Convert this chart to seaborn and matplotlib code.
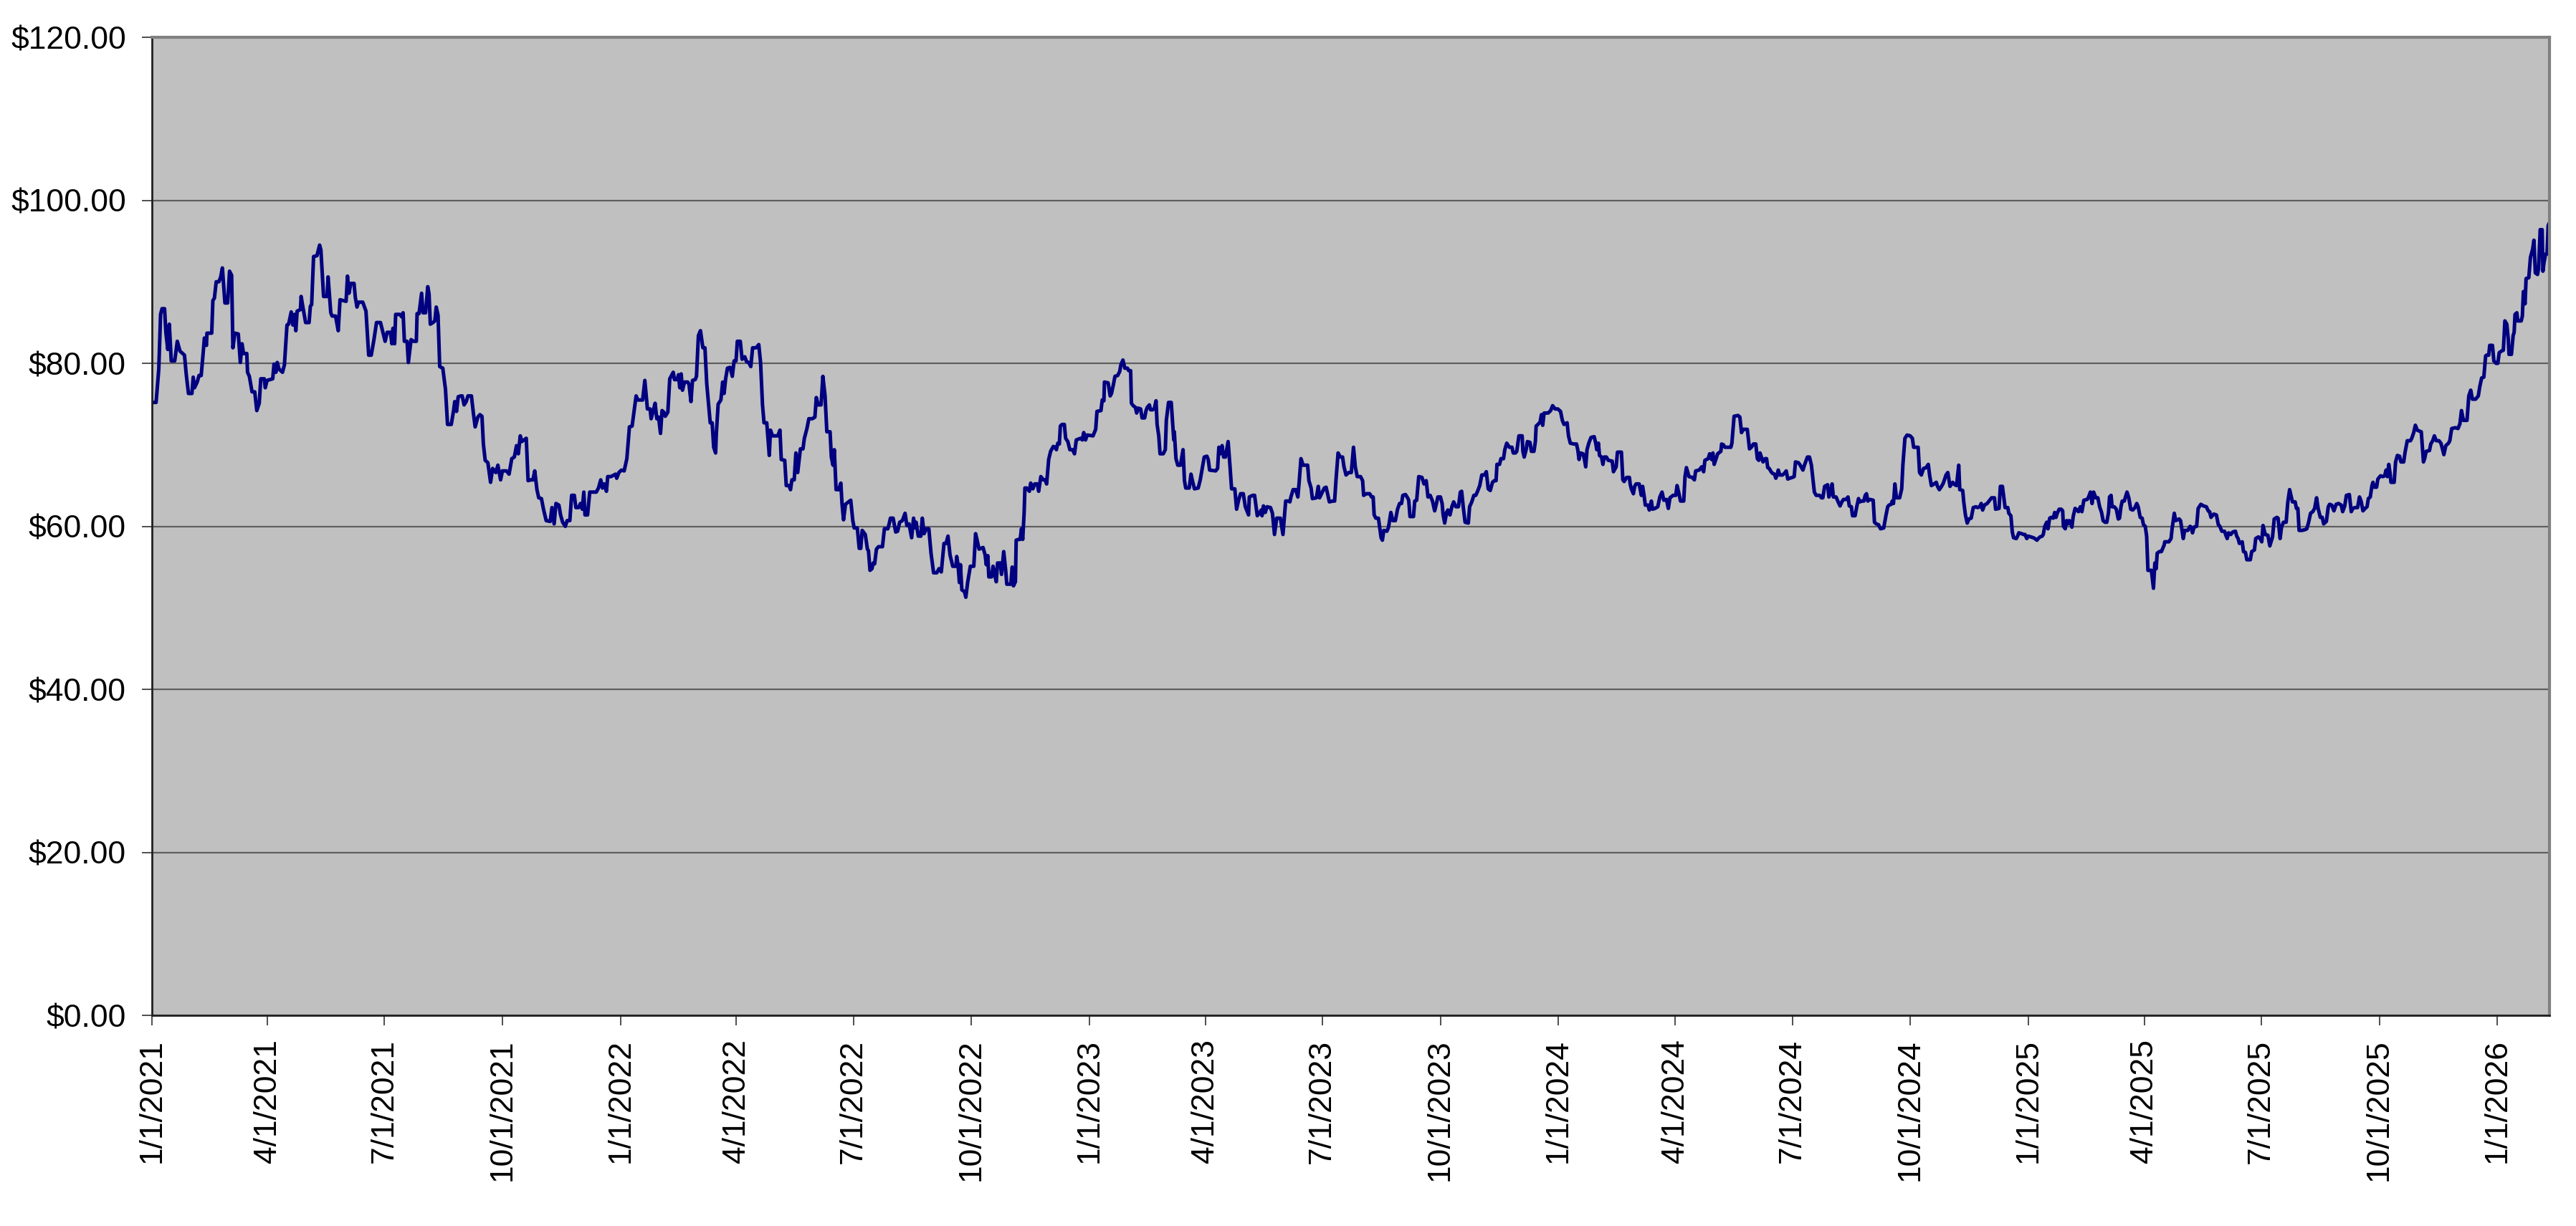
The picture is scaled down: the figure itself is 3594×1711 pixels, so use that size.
import pandas as pd
import matplotlib
matplotlib.use('Agg')
import matplotlib.pyplot as plt
import matplotlib.dates as mdates
from matplotlib.ticker import StrMethodFormatter, FuncFormatter
import seaborn as sns

# Chart range
start_date = '2021-01-01'
end_offset = 1866.5  # right edge of the x axis, days after start_date
y_ticks = [0, 20, 40, 60, 80, 100, 120]
tick_months = [1, 4, 7, 10]

# Price path: days after 1/1/2021 and price in $
days = [
    0, 3.2, 5.3, 6.7, 7.8, 9.8, 10.8, 12.3, 13.5, 15.0, 17.7, 19.7, 21.8, 25.3, 26.7, 28.4,
    31.1, 32.1, 33.1, 35.2, 36.6, 38.3, 39.7, 40.8, 42.4, 42.8, 46.5, 47.4, 48.6, 50.0, 52.1,
    53.5, 54.8, 56.8, 58.9, 60.4, 62.0, 63.0, 64.5, 67.2, 68.8, 70.1, 71.3, 73.8, 74.4, 75.8,
    77.9, 80.0, 81.6, 83.5, 84.7, 87.4, 88.2, 89.6, 94.0, 95.0, 96.5, 97.5, 98.9, 101.6, 103.1,
    105.1, 106.4, 108.4, 109.7, 110.9, 112.0, 113.0, 115.6, 116.1, 117.7, 119.6, 122.3, 123.3,
    124.3, 125.8, 128.4, 130.5, 131.5, 133.6, 136.3, 137.1, 139.2, 140.2, 142.9, 145.0, 146.4,
    151.1, 152.2, 153.4, 154.8, 157.3, 158.3, 159.6, 160.8, 164.1, 166.6, 168.7, 170.7, 172.8,
    174.8, 177.9, 181.5, 183.1, 185.6, 186.8, 187.6, 188.9, 189.7, 193.0, 194.4, 195.5, 196.5,
    198.6, 199.6, 201.7, 203.7, 205.8, 206.4, 207.9, 209.9, 211.0, 213.0, 214.7, 215.7, 216.7,
    218.8, 220.2, 221.3, 222.7, 224.0, 226.4, 228.5, 230.1, 233.0, 234.7, 235.7, 237.1, 238.4,
    240.5, 241.5, 243.0, 244.6, 246.0, 248.7, 250.2, 251.6, 253.7, 255.3, 256.9, 258.0, 259.4,
    261.5, 263.6, 265.2, 267.7, 269.3, 271.4, 272.8, 275.9, 278.0, 280.1, 282.1, 283.8, 285.2,
    286.7, 287.9, 291.4, 292.8, 294.9, 296.6, 298.0, 299.7, 301.1, 303.2, 304.8, 306.9, 310.0,
    311.4, 313.1, 314.5, 316.8,
    318.1, 319.7, 321.8, 323.2, 325.3, 326.7, 328.8, 330.0, 332.1, 333.6, 335.0, 336.2, 337.1,
    339.1, 340.8, 342.8, 345.9, 347.6, 349.4, 350.7, 352.1, 353.8, 354.8, 357.3, 359.8, 361.0,
    361.8, 363.5, 365.5, 367.6, 369.7, 371.7, 373.8, 376.9, 378.3, 382.0, 383.7, 385.7, 387.8,
    388.6, 390.3, 391.7, 393.0, 394.4, 395.9, 397.1, 398.5, 399.6, 401.6, 403.1, 405.8, 406.8,
    408.9, 409.9, 410.9, 412.0, 413.0, 414.6, 417.1, 418.1, 419.6, 420.8, 422.9, 423.9, 425.4,
    427.0, 428.9, 430.5, 431.9, 434.6, 436.1, 437.3, 438.8, 439.4, 440.8, 442.9, 444.3, 445.4,
    446.6, 448.0, 450.1, 451.8, 453.2, 454.7, 455.7, 458.0, 459.4, 461.5, 462.9, 464.6, 466.2,
    467.6, 470.3, 472.4, 473.8, 475.3, 476.5, 478.6, 480.6, 481.5, 483.1, 485.2, 487.2, 488.9,
    489.9, 492.6, 493.8, 495.9, 497.1, 498.2, 500.0, 501.3, 502.7, 504.8, 506.8, 507.9, 509.9,
    511.4, 514.1, 516.1, 517.2, 518.6, 520.9, 522.3, 524.0, 525.4, 527.9, 528.9, 530.2, 531.2,
    532.6, 534.7, 536.3, 537.2, 538.4, 539.9, 542.3, 544.0, 545.6, 546.7, 549.1, 550.6, 551.8,
    552.9, 555.3, 557.0, 557.8, 559.0, 560.5, 561.5, 562.6, 564.0, 565.6, 568.7, 570.2, 572.9,
    573.9, 574.9, 577.0, 579.0, 580.5, 582.1, 584.2, 586.3, 587.7, 589.4, 591.4, 592.9, 594.1,
    594.9, 596.6, 598.6, 599.7, 601.1, 602.8, 604.8, 606.5, 608.5, 611.0, 612.7, 614.5, 616.6,
    618.2, 619.7, 621.3, 623.4, 625.9, 626.5, 627.5, 628.6,
    629.4, 630.5, 632.5, 633.6, 635.0, 637.1, 639.8, 641.2, 642.4, 643.9, 647.0, 648.6, 649.5,
    650.7, 651.5, 653.6, 654.8, 656.3, 657.3, 658.3, 660.4, 661.4, 663.1, 664.5, 665.5, 668.6,
    669.7, 670.7, 672.2, 672.8, 674.8, 675.9, 676.9, 677.9, 679.0, 679.6, 681.0, 683.1, 684.1,
    685.8, 687.2, 689.3, 690.3, 692.0, 694.0, 695.5, 696.5, 698.1, 699.6, 701.7, 703.1, 704.1,
    705.2, 706.4, 707.2, 708.5, 710.3, 711.3, 713.0, 714.6, 716.7, 718.2, 719.6, 721.3, 722.9,
    724.3, 725.4, 726.8, 728.1, 732.6, 734.7, 735.7, 738.8, 739.8, 741.1, 741.5, 744.4, 746.0,
    747.0, 748.5, 749.7, 751.8, 753.4, 754.3, 755.9, 757.4, 759.4, 760.4, 761.9, 762.5, 763.9,
    765.6, 766.6, 767.7, 769.7, 770.8, 772.8, 773.9, 774.9, 776.5, 777.4, 779.0, 780.3, 781.7,
    782.5, 783.8, 784.8, 787.3, 788.9, 789.7, 791.4, 793.5, 795.5, 795.9, 797.2, 798.6, 800.7,
    802.7, 803.8, 804.8, 807.5, 808.9, 810.0, 811.6, 814.5, 816.1, 819.2, 821.3, 822.3, 823.4,
    828.1, 829.6, 830.6, 831.6, 833.1, 834.3, 835.7, 837.8, 839.2, 840.5, 843.0, 844.4, 846.1,
    847.5, 849.6, 851.2, 852.7, 853.7, 854.3, 857.0, 858.4, 860.5, 862.0, 863.6, 864.2, 865.3,
    866.7, 868.1, 870.8, 872.3, 873.9, 875.6, 878.5, 880.5, 882.6, 884.6, 885.9, 886.7, 888.4,
    890.4, 892.1, 893.1, 894.5, 896.2, 899.7, 900.7, 902.4, 903.4, 906.5, 908.0, 909.0, 912.7,
    914.1, 915.8, 916.6, 919.3, 920.7, 921.8, 923.4, 925.1, 926.9, 928.0, 929.6, 931.7, 933.7,
    935.4, 936.8, 938.3, 940.9,
    942.5, 943.3, 945.4, 948.0, 949.5, 950.7, 951.5, 952.8, 954.8, 955.7, 956.9, 957.9, 959.0,
    961.4, 962.5, 963.1, 964.5, 966.0, 968.0, 969.7, 971.3, 972.8, 973.8, 975.9, 977.5, 978.4,
    979.4, 982.1, 983.1, 984.6, 986.2, 988.7, 990.3, 992.0, 993.4, 995.1, 996.9, 998.6, 1000.0,
    1001.1, 1003.1, 1004.4, 1005.2, 1006.4, 1007.9, 1008.9, 1010.5, 1012.0, 1013.4, 1015.1,
    1017.1, 1018.6, 1019.6, 1020.9, 1022.3, 1024.8, 1025.8, 1027.5, 1029.1, 1030.6, 1032.0,
    1033.7, 1035.3, 1037.4, 1038.8, 1040.3, 1041.9, 1043.6, 1045.0, 1046.4, 1047.1, 1049.1,
    1050.2, 1052.2, 1053.2, 1054.7, 1056.8, 1058.8, 1059.8, 1061.5, 1062.5, 1064.2, 1066.7,
    1067.3, 1068.3, 1069.8, 1070.8, 1072.8, 1073.9, 1075.9, 1077.0, 1077.6, 1079.0, 1080.7,
    1081.7, 1082.7, 1083.8, 1086.9, 1088.9, 1090.4, 1092.4, 1094.5, 1096.6, 1098.0, 1099.3,
    1101.7, 1102.8, 1104.2, 1106.9, 1109.0, 1110.0, 1111.0, 1112.0, 1114.1, 1115.1, 1116.2,
    1117.2, 1118.6, 1120.3, 1122.8, 1124.0, 1124.8, 1126.1, 1126.9, 1128.5, 1129.6, 1130.6,
    1132.3, 1133.7, 1136.8, 1137.8, 1139.9, 1140.9, 1144.0, 1145.1, 1146.1, 1148.1, 1150.2,
    1150.8, 1151.7, 1153.3, 1154.3, 1155.4, 1157.8, 1159.5, 1160.5, 1161.6, 1162.6, 1164.7,
    1165.7, 1167.3, 1168.2, 1170.2, 1172.3, 1173.9, 1175.6, 1177.0, 1179.1, 1180.5, 1181.8,
    1184.2, 1186.3, 1187.3, 1188.8, 1190.0, 1192.5, 1193.5, 1194.6, 1196.6, 1199.1, 1200.8,
    1201.8, 1204.5, 1206.5, 1208.0, 1209.0, 1211.5, 1212.7, 1214.2, 1215.2, 1216.2, 1217.7,
    1218.9, 1221.4, 1222.0, 1223.4, 1224.5, 1229.2, 1230.0, 1231.7, 1234.8, 1236.2, 1237.5,
    1238.9, 1242.0, 1243.7, 1245.1, 1246.8, 1248.6, 1249.8, 1250.9, 1251.9, 1254.0,
    1254.3, 1255.8, 1257.0, 1257.9, 1259.1, 1260.5, 1261.6, 1263.2, 1264.2, 1265.3, 1266.1,
    1267.3, 1269.4, 1270.9, 1272.3, 1273.5, 1275.0, 1277.0, 1278.5, 1279.5, 1281.8, 1283.2,
    1285.3, 1286.7, 1288.8, 1290.4, 1291.9, 1292.9, 1294.2, 1295.6, 1298.3, 1299.7, 1300.8,
    1302.2, 1304.5, 1305.5, 1307.0, 1308.0, 1309.0, 1311.1, 1312.7, 1314.2, 1315.6, 1316.9,
    1318.9, 1320.4, 1321.4, 1323.0, 1323.9, 1325.9, 1327.2, 1328.6, 1329.6, 1331.3, 1332.7,
    1333.8, 1334.8, 1335.8, 1337.5, 1340.0, 1341.0, 1342.4, 1344.1, 1345.7, 1348.2, 1349.9,
    1351.3, 1352.3, 1354.0, 1354.8, 1355.8, 1356.9, 1358.1, 1360.6, 1362.2, 1363.1, 1364.7,
    1366.4, 1368.8, 1370.5, 1371.5, 1373.0, 1375.0, 1376.1, 1377.5, 1379.2, 1381.2, 1382.9,
    1383.9, 1385.3, 1387.4, 1389.1, 1390.1, 1391.5, 1393.2, 1394.6, 1396.7, 1398.1, 1399.8,
    1401.9, 1403.5, 1404.9, 1406.0, 1406.6, 1407.4, 1409.7, 1410.5, 1411.8, 1413.2, 1414.6,
    1416.3, 1417.9, 1420.0, 1421.4, 1422.9, 1424.1, 1425.2, 1426.6, 1428.7, 1430.7, 1432.2,
    1434.4, 1435.3, 1438.0, 1439.0, 1440.6, 1441.5, 1442.7, 1444.8, 1445.6, 1447.2, 1448.3,
    1449.3, 1451.4, 1452.4, 1453.4, 1455.5, 1457.1, 1458.2, 1459.6, 1460.6, 1462.7, 1464.8,
    1465.8, 1467.5, 1468.5, 1469.9, 1471.6, 1472.4, 1473.6, 1475.1, 1476.1, 1477.4, 1478.6,
    1480.2, 1481.3, 1482.3, 1483.3, 1484.8, 1486.4, 1487.5, 1488.1, 1489.5, 1490.6, 1491.6,
    1492.6, 1493.7, 1494.7, 1495.7, 1497.2, 1498.8, 1499.8, 1501.3, 1502.5, 1504.0, 1506.6,
    1507.7, 1509.1, 1510.4, 1511.6, 1513.3, 1514.9, 1516.3, 1517.8, 1519.0, 1520.5, 1521.9,
    1523.2, 1524.0, 1525.2, 1526.0, 1527.7, 1529.3, 1530.8, 1531.8, 1532.9, 1533.9, 1535.5,
    1536.4, 1537.6, 1539.0, 1540.5, 1542.1, 1543.8, 1545.2, 1546.3, 1547.9, 1549.4, 1550.4,
    1551.8, 1552.9, 1553.9, 1556.6, 1558.2, 1559.3, 1560.3, 1561.1, 1562.8, 1564.4, 1566.5,
    1567.0, 1570.2, 1571.9, 1572.7, 1574.4, 1575.5, 1578.2, 1579.3, 1581.4, 1582.5, 1585.0,
    1586.7, 1587.5, 1588.6, 1589.8, 1591.8, 1593.0, 1595.1, 1597.2, 1599.4, 1600.8, 1601.9,
    1603.0, 1605.1, 1607.2, 1608.7, 1609.9, 1611.4, 1613.5, 1614.6, 1615.6, 1616.7, 1618.4,
    1619.9, 1622.0, 1623.0, 1624.1, 1625.1, 1627.3, 1628.3, 1629.8, 1630.9, 1633.6, 1634.7,
    1636.8, 1637.8, 1639.9, 1641.6, 1642.5, 1643.5, 1645.2, 1647.3, 1648.8, 1650.9, 1652.2,
    1654.3, 1655.2, 1656.8, 1657.9, 1659.4, 1661.5, 1662.8, 1664.2, 1666.4, 1668.5, 1669.5,
    1670.6, 1671.6, 1673.8, 1676.3, 1677.6, 1679.0, 1680.5, 1682.2, 1683.7, 1685.2, 1686.4,
    1688.1, 1689.6, 1690.7, 1692.8, 1694.3, 1695.3, 1697.0, 1698.7, 1700.4, 1702.3, 1704.4,
    1705.5, 1707.1, 1708.4, 1710.7, 1712.2, 1713.5, 1715.0, 1717.1, 1718.6, 1719.8, 1721.3,
    1723.0, 1724.5, 1725.5, 1727.0, 1728.3, 1729.1, 1730.0, 1731.9, 1732.9, 1735.0, 1736.7,
    1738.2, 1739.3, 1740.3, 1741.4, 1742.4, 1743.1, 1745.6, 1746.7, 1748.1, 1749.8, 1750.9,
    1753.0, 1754.1, 1755.8, 1758.3, 1759.3, 1760.8, 1762.1, 1763.6, 1765.0, 1766.7, 1768.4,
    1769.3, 1770.5, 1773.1, 1774.1, 1775.6, 1776.9, 1778.4, 1780.5, 1782.0, 1783.2, 1784.3,
    1785.8, 1787.9, 1788.9, 1790.4, 1793.2, 1795.3, 1796.8, 1798.0, 1799.5, 1802.3, 1803.7,
    1805.2, 1806.5, 1809.0, 1811.1, 1812.2, 1813.7, 1815.4, 1816.8, 1817.5, 1819.2, 1820.0,
    1822.1, 1823.2, 1824.9, 1826.3, 1827.4, 1829.1, 1830.6, 1831.8, 1833.3, 1834.4, 1835.0,
    1836.9, 1838.2, 1839.0, 1839.7, 1841.1, 1841.8, 1844.5, 1845.4, 1846.2, 1847.5, 1848.3,
    1850.4, 1851.7, 1853.4, 1854.4, 1855.5, 1857.2, 1858.0, 1859.3, 1860.8, 1861.4, 1862.3,
    1863.5, 1864.6, 1865.5, 1866.3,
]

price = [
    75.2, 75.2, 79.3, 86.0, 86.7, 86.7, 83.8, 81.7, 84.8, 80.3, 80.3, 82.7, 81.5, 81.0, 78.6, 76.3,
    76.3, 78.3, 77.0, 77.7, 78.5, 78.5, 81.0, 83.1, 82.2, 83.7, 83.7, 87.7, 88.0, 90.0, 90.0,
    90.6, 91.7, 87.4, 87.4, 91.3, 90.8, 81.9, 83.7, 83.6, 80.1, 82.4, 81.2, 81.2, 78.9, 78.4,
    76.5, 76.5, 74.2, 75.1, 78.1, 78.1, 77.0, 77.9, 78.1, 79.9, 78.9, 80.1, 79.3, 78.9, 79.8,
    84.7, 84.8, 86.3, 84.7, 86.0, 84.0, 86.4, 86.6, 88.2, 86.7, 85.0, 85.0, 87.0,
    87.2, 93.1, 93.2, 94.5, 93.9, 88.2, 88.2, 90.6, 86.2, 85.8, 85.8, 84.0, 87.8,
    87.6, 90.7, 88.6, 89.8, 89.8, 88.1, 86.9, 87.5, 87.5, 86.4, 81.0, 81.0, 82.9,
    85.0, 85.0, 82.7, 83.8, 83.8, 82.4, 84.3, 82.4, 86.0, 86.0, 85.7, 86.2, 82.7,
    82.7, 80.1, 82.9, 82.7, 82.7, 86.1, 86.1, 88.6, 86.2, 86.2, 89.4, 88.5, 84.8,
    85.0, 85.2, 86.9, 85.9, 79.6, 79.4, 76.8, 72.5, 72.5, 74.1, 75.3, 74.1, 75.9,
    76.0, 76.0, 74.9, 75.3, 76.0, 76.0, 73.9, 72.2, 73.4, 73.7, 73.5, 70.1, 68.1,
    67.8, 65.4, 67.1, 66.6, 67.5, 65.7, 66.8, 66.8, 66.4, 68.3, 68.5, 69.9, 68.9,
    71.1, 70.4, 70.8, 65.6, 65.7, 65.7, 66.8, 64.5, 63.5, 63.4, 62.1, 60.7, 60.6,
    62.3, 60.3, 62.8, 62.6,
    61.4, 60.5, 60.0, 60.7, 60.7, 63.8, 63.8, 62.3, 62.3, 62.8, 62.1, 64.2, 61.4,
    61.4, 64.2, 64.2, 64.2, 64.7, 65.7, 64.7, 65.2, 64.3, 66.1, 66.1, 66.3, 66.4,
    65.9, 66.6, 66.9, 66.8, 68.3, 72.2, 72.3, 76.0, 75.5, 75.5, 77.9, 74.4, 74.4,
    73.2, 74.2, 75.1, 73.2, 73.4, 71.4, 74.2, 74.0, 73.5, 74.0, 78.1, 78.9, 78.0,
    78.0, 78.6, 77.0, 78.7, 76.7, 77.7, 77.7, 77.4, 75.3, 77.9, 78.0, 78.4, 83.4,
    84.0, 81.9, 81.9, 77.5, 72.7, 72.7, 69.7, 69.0, 71.5, 75.0, 75.5, 77.7, 76.3,
    78.1, 79.4, 79.5, 78.4, 80.3, 80.3, 82.7, 82.7, 80.5, 80.8, 80.2, 80.1, 79.6,
    81.9, 81.9, 82.3, 80.1, 74.9, 72.7, 72.7, 68.7, 71.8, 71.1, 71.1, 71.1, 71.8,
    68.2, 68.1, 65.0, 65.0, 64.5, 65.7, 65.7, 69.0, 66.6, 69.5, 69.5, 70.8, 72.0,
    73.2, 73.2, 73.4, 75.8, 74.9, 74.9, 78.4, 76.0, 71.6, 71.6, 68.5, 67.5, 69.4,
    64.5, 64.5, 65.3, 62.8, 60.8, 62.7, 63.0, 63.2, 60.7, 59.8, 59.8, 57.3, 57.3,
    59.5, 59.0, 57.2, 57.0, 54.6, 54.8, 55.5, 55.4, 57.2, 57.5, 57.5, 59.7, 59.7,
    60.3, 61.0, 61.0, 59.3, 59.4, 60.5, 60.7, 61.6, 60.1, 60.3, 58.6, 61.0, 59.8,
    60.5, 58.8, 58.8, 61.0, 59.1, 59.7, 59.7, 56.7, 54.3, 54.3, 54.8, 54.4, 57.9,
    57.9, 58.8, 56.5, 55.1, 55.1, 56.3, 55.3, 53.1,
    55.3, 52.2, 52.0, 51.3, 53.1, 55.1, 55.1, 59.1, 58.3, 57.2, 57.4, 56.5, 55.3,
    56.4, 53.8, 53.8, 55.1, 53.9, 53.2, 55.5, 55.5, 54.1, 56.9, 54.8, 52.9, 52.9,
    55.0, 52.7, 53.2, 58.3, 58.4, 58.4, 59.7, 58.4, 61.7, 64.7, 64.7, 64.3, 65.3,
    64.6, 65.2, 65.2, 64.3, 66.1, 65.7, 65.7, 65.2, 68.2, 69.2, 69.8, 69.7, 69.4,
    70.2, 70.1, 72.3, 72.5, 72.5, 70.8, 70.4, 69.4, 69.4, 68.9, 70.6, 70.7, 70.8,
    70.6, 71.5, 70.6, 71.2, 71.1, 71.9, 74.1, 74.2, 75.5, 75.4, 77.7, 77.6, 76.0,
    76.3, 77.4, 78.4, 78.5, 79.0, 79.8, 80.4, 79.4, 79.4, 79.1, 79.1, 75.1, 74.8,
    74.6, 73.9, 74.5, 74.4, 73.3, 73.3, 74.2, 74.6, 74.9, 74.3, 74.3, 74.4, 75.4,
    72.5, 71.1, 68.9, 68.9, 69.4, 73.0, 75.2, 75.2, 70.6, 71.6, 68.3, 67.5, 67.5,
    69.4, 65.6, 64.7, 64.7, 66.4, 65.6, 64.6, 64.7, 65.7, 68.5, 68.6, 68.2, 66.9,
    66.8, 67.1, 69.7, 68.9, 69.9, 68.5, 68.5, 70.4, 67.5, 64.6, 64.6, 62.1, 63.3,
    64.0, 64.0, 62.4, 61.8, 61.4, 63.6, 63.8, 63.8, 61.3, 61.6, 62.0, 61.3, 62.5,
    61.7, 62.4, 62.3, 61.6, 59.0, 61.0, 61.0, 59.0, 63.1, 63.1, 63.0, 63.6, 64.5,
    64.5, 63.6, 65.4, 68.3, 67.5, 67.5, 65.6, 64.7, 63.4, 63.5, 64.9, 63.5, 64.7,
    64.8, 63.6, 63.0, 63.1, 63.1, 65.7, 69.0, 68.5, 68.5, 67.3, 66.3, 66.6, 66.6,
    69.7, 67.3, 66.1, 66.1,
    65.6, 63.8, 64.0, 64.0, 63.6, 63.6, 61.4, 61.0, 61.0, 60.0, 58.6, 58.3, 59.5,
    59.4, 59.8, 60.3, 61.7, 60.7, 60.7, 62.1, 62.8, 62.8, 63.8, 63.9, 63.5, 63.2,
    61.2, 61.2, 63.1, 63.2, 66.1, 66.0, 65.2, 65.6, 63.6, 63.8, 63.1, 61.9, 62.8,
    63.6, 63.6, 62.8, 61.4, 60.4, 61.7, 62.0, 61.4, 62.4, 63.0, 62.4,
    62.4, 64.2, 64.3, 62.3, 60.5, 60.4, 62.4, 63.0, 63.8, 63.8, 64.3,
    65.0, 66.3, 66.3, 66.7, 64.6, 64.4, 65.4, 65.6, 65.6, 67.6, 67.6,
    68.3, 68.3, 69.4, 70.2, 69.7, 69.7, 69.0, 69.0, 69.2, 71.1, 71.1,
    69.2, 68.5, 69.4, 70.4, 70.3, 69.2, 69.2, 70.4, 72.3, 72.5, 72.8,
    73.7, 72.4, 73.9, 73.9, 74.2, 74.8, 74.4, 74.4, 74.1, 73.0, 72.5,
    72.7, 71.1, 70.2, 70.1, 70.1, 69.4, 68.2, 69.0, 68.9, 68.3, 67.3,
    69.4, 70.2, 70.9, 71.0, 70.2, 69.4, 70.2, 68.7, 68.5, 67.6, 68.5,
    68.5, 68.1, 68.0, 66.7, 67.3, 69.1, 69.1, 65.7, 65.5, 66.0, 66.0,
    65.2, 64.6, 64.0, 64.9, 65.2, 65.2, 63.8, 64.9, 63.8, 62.6, 62.6,
    62.0, 63.1, 62.1, 62.2, 62.4, 63.6, 64.2, 63.2, 63.3, 62.2, 63.5,
    63.8, 63.8, 65.0, 64.0, 63.1, 63.1, 66.1, 67.2, 66.1, 66.0, 65.7,
    66.8, 66.9, 67.3, 66.7, 68.1, 68.3, 68.9, 68.2, 69.0, 67.6, 68.3,
    68.9, 69.2, 70.1, 70.0, 69.7, 69.7, 70.2, 73.5, 73.6, 73.4, 71.5,
    71.9, 71.9, 69.5, 69.7, 70.1, 70.1, 68.3, 68.1, 69.0, 68.0,
    67.9, 68.3, 68.3, 67.2, 67.1, 66.7, 66.5, 66.4, 65.9, 66.3, 66.9,
    66.3, 66.3, 66.5, 66.8, 65.8, 65.9, 66.0, 66.1, 67.9, 67.8, 67.5,
    66.9, 67.6, 68.5, 68.5, 67.5, 66.1, 64.2, 63.8, 63.8, 63.5, 63.5,
    64.9, 65.1, 63.6, 64.2, 65.2, 63.6, 63.6, 63.0, 62.5, 63.0, 63.3,
    63.3, 63.6, 62.5, 62.4, 61.3, 61.3, 62.4, 63.4, 63.0, 63.1, 63.1,
    63.8, 64.0, 63.1, 63.3, 63.2, 60.5, 60.3, 60.2, 59.7, 59.8, 61.3,
    62.4, 62.6, 62.7, 63.1, 62.8, 65.2, 63.5, 63.5, 64.6, 67.5, 70.8,
    71.2, 71.1, 70.8, 69.7, 69.7, 69.7, 66.6, 66.3, 67.1, 67.2, 67.6,
    66.3, 65.0, 65.2, 65.4, 64.9, 64.5, 64.9, 65.3, 66.3, 66.6, 64.9,
    65.4, 65.1, 65.0, 66.6, 67.5, 64.5, 64.4, 63.0, 61.4, 60.4, 60.9,
    61.0, 62.3, 62.4, 62.3, 62.4, 62.8, 62.0, 62.6, 62.8, 63.2, 63.5,
    63.5, 62.1, 62.2, 64.9, 64.9, 63.8, 62.3, 62.3, 61.6, 61.3, 59.3,
    58.6, 58.5, 58.8, 59.2, 59.1, 59.0, 59.0, 58.5, 58.8, 58.7, 58.6,
    58.5, 58.3, 58.5, 58.7, 58.8, 59.0, 60.0, 60.5, 59.7, 61.0, 61.1,
    61.0, 61.7, 61.1, 61.6, 62.1, 62.1, 61.9, 60.0, 59.7, 60.7, 60.3,
    60.7, 60.5, 59.9, 61.2, 62.2, 62.0, 61.8, 62.4, 61.8, 63.2, 63.3,
    63.6, 64.2, 62.8, 64.2, 63.5, 63.5, 62.4, 61.7, 60.7, 60.5, 60.5,
    61.7, 63.6, 63.8, 62.4, 62.4, 62.1, 60.9, 61.0, 62.4, 63.1, 63.1,
    63.6, 64.2, 63.5, 62.1, 62.0, 62.3, 62.8, 62.4, 61.1, 61.0, 60.2,
    60.0, 58.8, 54.6, 54.6, 52.4, 55.5, 54.8, 56.7, 56.9, 56.9, 57.7,
    58.1, 58.1, 58.5, 59.7, 61.6, 60.7, 60.9, 60.7, 58.5, 59.5, 59.5,
    60.0, 59.9, 59.2, 59.9, 60.0, 62.2, 62.7, 62.5, 62.4, 61.9, 61.8,
    61.1, 61.5, 61.4, 60.2, 60.0, 59.4, 59.4, 58.9, 58.5, 59.2, 59.0,
    59.3, 59.4, 58.8, 58.5, 57.9, 58.1, 56.9, 56.8, 55.9, 55.9, 56.9,
    57.1, 58.5, 58.7, 58.4, 58.1, 60.1, 59.0, 58.9, 57.6, 58.7, 60.9,
    61.1, 61.0, 58.5, 59.9, 60.5, 60.5, 63.0, 64.5, 63.0, 63.0, 62.2,
    62.2, 59.5, 59.5, 59.6, 59.7, 60.5, 61.6, 61.8, 62.2, 63.5, 62.2,
    61.1, 61.1, 60.3, 60.6, 62.4, 62.7, 62.6, 61.9, 62.7, 62.8, 62.6,
    61.8, 62.5, 63.8, 63.9, 61.8, 62.2, 62.3, 62.3, 63.6, 63.1, 61.9,
    62.2, 62.4, 63.4, 63.6, 65.0, 65.4, 64.8, 64.8, 65.8, 66.2, 66.1,
    66.2, 66.9, 66.1, 67.6, 66.5, 65.4, 65.4, 67.9, 68.7, 68.6, 67.9,
    67.9, 69.1, 70.5, 70.5, 70.8, 71.5, 72.4, 71.8, 71.7, 71.6, 67.9,
    68.3, 69.2, 69.3, 70.1, 70.5, 71.1, 70.5, 70.5, 70.2, 69.5, 68.8,
    69.9, 70.2, 70.5, 72.0, 72.1, 72.0, 72.6, 74.2, 73.0, 73.0, 76.0,
    76.7, 75.6, 75.6, 76.0, 77.1, 78.2, 78.3, 80.9, 81.0, 81.0, 82.2,
    82.2, 80.3, 80.0, 80.0, 81.3, 81.5, 81.6, 85.2, 84.8, 83.0, 81.1,
    81.1, 83.4, 83.8, 86.0, 86.2, 85.2, 85.2, 85.8, 88.8, 87.3, 90.4,
    90.5, 93.0, 94.0, 95.1, 91.1, 90.9, 91.6, 96.4, 96.4, 91.3, 92.4,
    93.4, 93.4, 96.9, 97.2,
]

df = pd.DataFrame({
    'date': pd.Timestamp(start_date) + pd.to_timedelta(days, unit='D'),
    'price': price,
})

sns.set_theme(style='white')
plt.rcParams['font.family'] = ['Liberation Sans', 'DejaVu Sans']

fig = plt.figure(figsize=(35.94, 17.11), dpi=100)
ax = fig.add_axes([0.0590, 0.1718, 0.9307, 0.7978])
ax.set_facecolor('#c0c0c0')

sns.lineplot(data=df, x='date', y='price', color='#000080', linewidth=3.6,
             estimator=None, sort=False, ax=ax)

# y axis
ax.set_ylim(0, 120)
ax.set_yticks(y_ticks)
ax.yaxis.set_major_formatter(StrMethodFormatter('${x:,.2f}'))
ax.grid(axis='y', color='#5f5f5f', linewidth=1.6)
ax.grid(axis='x', visible=False)
ax.set_axisbelow(True)

# x axis: quarterly ticks
ax.set_xlim(pd.Timestamp(start_date), pd.Timestamp(start_date) + pd.Timedelta(days=end_offset))
ax.xaxis.set_major_locator(mdates.MonthLocator(bymonth=tick_months, bymonthday=1))


def date_label(x, pos):
    d = mdates.num2date(x)
    return f'{d.month}/{d.day}/{d.year}'


ax.xaxis.set_major_formatter(FuncFormatter(date_label))

ax.set_xlabel('')
ax.set_ylabel('')

ax.tick_params(axis='both', direction='out', length=10, width=1.2, color='#303030',
               labelsize=32, labelcolor='black')
ax.tick_params(axis='y', pad=16, left=True)
ax.tick_params(axis='x', pad=14, labelrotation=90, bottom=True)

# Excel-like frame: grey plot border, dark axis lines
for side in ['top', 'right']:
    ax.spines[side].set_color('#808080')
    ax.spines[side].set_linewidth(3)
for side in ['left', 'bottom']:
    ax.spines[side].set_color('#202020')
    ax.spines[side].set_linewidth(2)

fig.savefig('out.png', dpi=100, facecolor='white')
